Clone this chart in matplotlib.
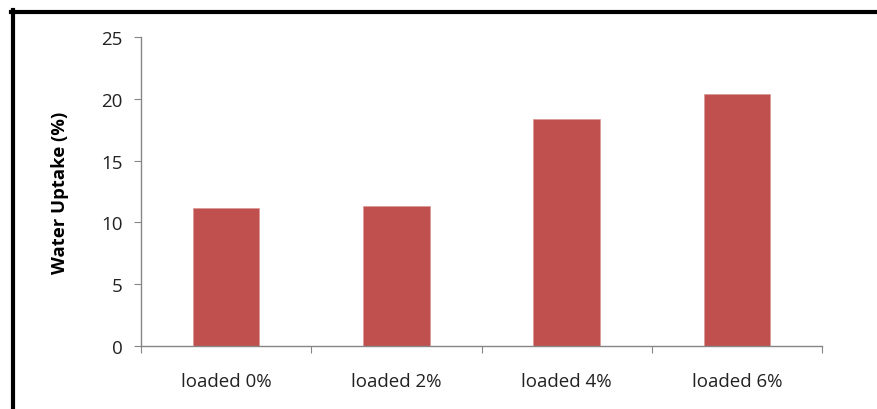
import matplotlib
matplotlib.use("Agg")
from matplotlib import pyplot as plt
from matplotlib.lines import Line2D
import numpy as np

categorias = ["loaded 0%", "loaded 2%", "loaded 4%", "loaded 6%"]
absorcion = [11.2, 11.35, 18.4, 20.35]

plt.rcParams["font.family"] = ["Open Sans", "DejaVu Sans"]

fig = plt.figure(figsize=(8.77, 4.10), dpi=100)
ax = fig.add_axes([0.1608, 0.1537, 0.7765, 0.7536])

x = np.arange(len(categorias))
ax.bar(x, absorcion, width=0.39, color="#C0504D", edgecolor="#D99694", linewidth=0.5)

ax.set_xlim(-0.5, len(categorias) - 0.5)
ax.set_ylim(0, 25)
ax.set_yticks([0, 5, 10, 15, 20, 25])

gris = "#868686"
for lado in ["top", "right"]:
    ax.spines[lado].set_visible(False)
for lado in ["left", "bottom"]:
    ax.spines[lado].set_color(gris)
    ax.spines[lado].set_linewidth(1)

ax.set_xticks(np.arange(len(categorias) + 1) - 0.5)
ax.set_xticklabels([])
ax.set_xticks(x, minor=True)
ax.set_xticklabels(categorias, minor=True)
ax.tick_params(axis="x", which="major", direction="out", length=5, color=gris)
ax.tick_params(axis="x", which="minor", length=0, pad=19, labelsize=13.5, labelcolor="#222222")
ax.tick_params(axis="y", direction="out", length=5, color=gris, pad=8, labelsize=13.5, labelcolor="#222222")

ax.set_ylabel("Water Uptake (%)", fontsize=13.3, fontweight="bold")
ax.yaxis.set_label_coords(-0.106, 0.5)

# marco negro (arriba e izquierda)
fig.add_artist(Line2D([11 / 877, 1], [1 - 12.5 / 410, 1 - 12.5 / 410], color="black", linewidth=3, transform=fig.transFigure))
fig.add_artist(Line2D([12.5 / 877, 12.5 / 877], [0, 1 - 11 / 410], color="black", linewidth=3, transform=fig.transFigure))

fig.savefig("out.png", dpi=100)
